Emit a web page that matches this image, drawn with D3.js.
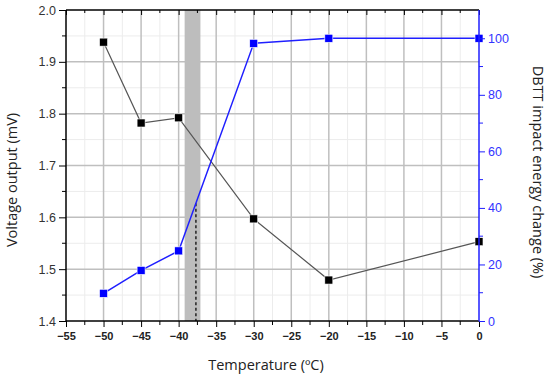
<!DOCTYPE html>
<html>
<head>
<meta charset="utf-8">
<script src="https://cdn.jsdelivr.net/npm/d3@7"></script>
<style>
  body { margin: 0; background: #fff; }
  svg { display: block; }
  .tick text { font-family: "Liberation Sans", Arial, sans-serif; }
  .title { font-family: "Open Sans", "Noto Sans", sans-serif; font-size: 14.5px; fill: #222; }
</style>
</head>
<body>
<svg></svg>
<script>
var temps = [-50, -45, -40, -30, -20, 0];
var voltage = [1.938, 1.782, 1.792, 1.597, 1.479, 1.553];
var dbtt = [9.8, 17.9, 24.8, 98.2, 100, 100];
var band = [-39.2, -37.1];
var dbttTemp = -37.7;
var xTicks = [-55, -50, -45, -40, -35, -30, -25, -20, -15, -10, -5, 0];
var yTicks = [1.4, 1.5, 1.6, 1.7, 1.8, 1.9, 2.0];
var y2Ticks = [0, 20, 40, 60, 80, 100];

var width = 550, height = 379;
var m = {left: 66, right: 479, top: 10, bottom: 321};

var svg = d3.select("svg").attr("width", width).attr("height", height);

var x = d3.scaleLinear().domain([-55, 0]).range([m.left, m.right]);
var y = d3.scaleLinear().domain([1.4, 2.0]).range([m.bottom, m.top]);
var y2 = d3.scaleLinear().domain([0, 110]).range([m.bottom, m.top]);

var xMinor = d3.range(-52.5, 0, 5);
var yMinor = d3.range(1.45, 2.0, 0.1);
var y2Minor = d3.range(10, 110, 20);

// minor grid
var grid = svg.append("g");
grid.selectAll(".vmin").data(xMinor).enter().append("line")
  .attr("x1", d => x(d)).attr("x2", d => x(d))
  .attr("y1", m.top).attr("y2", m.bottom)
  .attr("stroke", "#ececec").attr("stroke-width", 1);
grid.selectAll(".hmin").data(yMinor).enter().append("line")
  .attr("x1", m.left).attr("x2", m.right)
  .attr("y1", d => y(d)).attr("y2", d => y(d))
  .attr("stroke", "#ececec").attr("stroke-width", 1);
// major grid
grid.selectAll(".vmaj").data(xTicks.slice(1, -1)).enter().append("line")
  .attr("x1", d => x(d)).attr("x2", d => x(d))
  .attr("y1", m.top).attr("y2", m.bottom)
  .attr("stroke", "#bfbfbf").attr("stroke-width", 1.5);
grid.selectAll(".hmaj").data(yTicks.slice(1, -1)).enter().append("line")
  .attr("x1", m.left).attr("x2", m.right)
  .attr("y1", d => y(d)).attr("y2", d => y(d))
  .attr("stroke", "#bfbfbf").attr("stroke-width", 1.5);

// transition band
svg.append("rect")
  .attr("x", x(band[0])).attr("y", m.top)
  .attr("width", x(band[1]) - x(band[0])).attr("height", m.bottom - m.top)
  .attr("fill", "#bdbdbd");

// dashed marker from blue curve down to axis
var i0 = 2, i1 = 3;
var t = (dbttTemp - temps[i0]) / (temps[i1] - temps[i0]);
var dv = dbtt[i0] + t * (dbtt[i1] - dbtt[i0]);
svg.append("line")
  .attr("x1", x(dbttTemp)).attr("x2", x(dbttTemp))
  .attr("y1", y2(dv)).attr("y2", m.bottom)
  .attr("stroke", "#222").attr("stroke-width", 1.5)
  .attr("stroke-dasharray", "3,2.5");

// series
var pts1 = temps.map((d, i) => [d, voltage[i]]);
var pts2 = temps.map((d, i) => [d, dbtt[i]]);

svg.append("path").datum(pts1)
  .attr("fill", "none").attr("stroke", "#555").attr("stroke-width", 1.2)
  .attr("d", d3.line().x(d => x(d[0])).y(d => y(d[1])));
svg.append("path").datum(pts2)
  .attr("fill", "none").attr("stroke", "#1f1fff").attr("stroke-width", 1.5)
  .attr("d", d3.line().x(d => x(d[0])).y(d => y2(d[1])));

svg.selectAll(".p1").data(pts1).enter().append("rect")
  .attr("x", d => x(d[0]) - 4).attr("y", d => y(d[1]) - 4)
  .attr("width", 8).attr("height", 8)
  .attr("fill", "#000").attr("stroke", "#fff").attr("stroke-width", 0.6);
svg.selectAll(".p2").data(pts2).enter().append("rect")
  .attr("x", d => x(d[0]) - 4).attr("y", d => y2(d[1]) - 4)
  .attr("width", 8).attr("height", 8)
  .attr("fill", "#0000ff").attr("stroke", "#fff").attr("stroke-width", 0.6);

// axes
function fmtMinus(d) { return d < 0 ? "\u2212" + Math.abs(d) : "" + d; }

var xAx = svg.append("g").attr("transform", "translate(0," + m.bottom + ")")
  .call(d3.axisBottom(x).tickValues(xTicks).tickFormat(fmtMinus).tickSize(6).tickSizeOuter(0));
xAx.append("g").selectAll("line").data(xMinor).enter().append("line")
  .attr("x1", d => x(d)).attr("x2", d => x(d)).attr("y1", 0).attr("y2", 4)
  .attr("stroke", "#000");
xAx.selectAll(".tick text").attr("font-size", 11).attr("font-weight", "bold").attr("fill", "#222").attr("dy", "0.9em");

var xTop = svg.append("g").attr("transform", "translate(0," + m.top + ")")
  .call(d3.axisBottom(x).tickValues(xTicks).tickFormat("").tickSize(5).tickSizeOuter(0));
xTop.append("g").selectAll("line").data(xMinor).enter().append("line")
  .attr("x1", d => x(d)).attr("x2", d => x(d)).attr("y1", 0).attr("y2", 3)
  .attr("stroke", "#000");

var yAx = svg.append("g").attr("transform", "translate(" + m.left + ",0)")
  .call(d3.axisLeft(y).tickValues(yTicks).tickFormat(d3.format(".1f")).tickSize(7).tickSizeOuter(0));
yAx.append("g").selectAll("line").data(yMinor).enter().append("line")
  .attr("x1", 0).attr("x2", -4).attr("y1", d => y(d)).attr("y2", d => y(d))
  .attr("stroke", "#000");
yAx.selectAll(".tick text").attr("font-size", 12.5).attr("fill", "#333");

var y2Ax = svg.append("g").attr("transform", "translate(" + m.right + ",0)")
  .call(d3.axisRight(y2).tickValues(y2Ticks).tickSize(6).tickSizeOuter(0));
y2Ax.append("g").selectAll("line").data(y2Minor).enter().append("line")
  .attr("x1", 0).attr("x2", 4).attr("y1", d => y2(d)).attr("y2", d => y2(d))
  .attr("stroke", "#1f1fff");
y2Ax.select(".domain").attr("stroke", "#1f1fff").attr("stroke-width", 1.5)
  .attr("d", "M0," + m.top + "V" + m.bottom);
y2Ax.selectAll(".tick line").attr("stroke", "#1f1fff");
y2Ax.selectAll(".tick text").attr("font-size", 12.5).attr("fill", "#3333ff");

[xAx, xTop, yAx].forEach(g => g.select(".domain").attr("stroke-width", 1.5));
yAx.select(".domain").attr("d", "M0," + m.top + "V" + m.bottom);
xAx.select(".domain").attr("d", "M" + m.left + ",0H" + m.right);
xTop.select(".domain").attr("d", "M" + m.left + ",0H" + m.right);

// titles
svg.append("text").attr("class", "title")
  .attr("transform", "translate(12,180) rotate(-90)")
  .attr("text-anchor", "middle").attr("dy", "0.35em")
  .text("Voltage output (mV)");
svg.append("text").attr("class", "title")
  .attr("x", 266).attr("y", 370)
  .attr("text-anchor", "middle")
  .text("Temperature (\u00baC)");
svg.append("text").attr("class", "title")
  .attr("transform", "translate(538,172) rotate(90)")
  .attr("text-anchor", "middle").attr("dy", "0.35em")
  .text("DBTT impact energy change (%)");
</script>
</body>
</html>
